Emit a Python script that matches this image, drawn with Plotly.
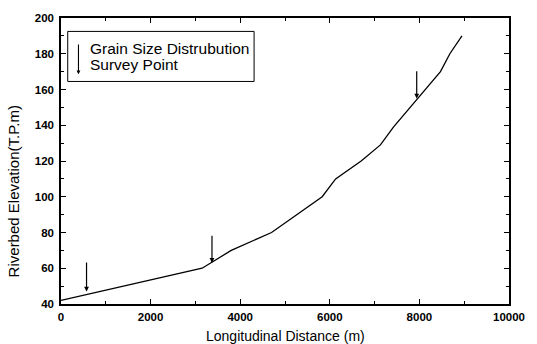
import plotly.graph_objects as go

# Longitudinal riverbed profile
distance_m = [0, 3150, 3800, 4700, 5830, 6130, 6700, 7130, 7420, 7920, 8470, 8680, 8950]
elevation_m = [42, 60, 70, 80, 100, 110, 120, 129, 139, 154, 170, 180, 190]

# Grain size distribution survey points (arrow x, arrow top y, arrow tip y)
survey_x = [570, 3370, 7940]
survey_top = [64, 79, 171]
survey_tip = [47, 63, 155]

x_ticks = [0, 2000, 4000, 6000, 8000, 10000]
y_ticks = [40, 60, 80, 100, 120, 140, 160, 180, 200]

legend_lines = ["Grain Size Distrubution", "Survey Point"]
x_title = "Longitudinal Distance (m)"
y_title = "Riverbed Elevation(T.P.m)"

fig = go.Figure()
fig.add_trace(go.Scatter(x=distance_m, y=elevation_m, mode="lines",
                         line=dict(color="black", width=1.3), showlegend=False,
                         hoverinfo="skip"))

for sx, st, sp in zip(survey_x, survey_top, survey_tip):
    fig.add_annotation(x=sx, y=sp, ax=sx, ay=st, xref="x", yref="y", axref="x", ayref="y",
                       showarrow=True, arrowhead=2, arrowsize=0.8, arrowwidth=1.2,
                       arrowcolor="black", text="")

# legend box
fig.add_shape(type="rect", xref="x", yref="y", x0=150, x1=4310, y0=164.5, y1=192.5,
              line=dict(color="black", width=1), fillcolor="white")
fig.add_annotation(x=390, y=168.5, ax=390, ay=186, xref="x", yref="y", axref="x", ayref="y",
                   showarrow=True, arrowhead=2, arrowsize=0.7, arrowwidth=1.1,
                   arrowcolor="black", text="")
fig.add_annotation(x=600, y=182.9, xref="x", yref="y", text=legend_lines[0], showarrow=False,
                   xanchor="left", yanchor="middle",
                   font=dict(size=15.5, color="#000000", family="Liberation Sans"))
fig.add_annotation(x=600, y=174.0, xref="x", yref="y", text=legend_lines[1], showarrow=False,
                   xanchor="left", yanchor="middle",
                   font=dict(size=15.5, color="#000000", family="Liberation Sans"))

# axis titles
fig.add_annotation(x=0.5, y=-0.112, xref="paper", yref="paper", text=x_title, showarrow=False,
                   xanchor="center", yanchor="middle",
                   font=dict(size=14, color="#000000", family="Liberation Sans"))
fig.add_annotation(x=-0.107, y=0.394, xref="paper", yref="paper", text=y_title, showarrow=False,
                   xanchor="center", yanchor="middle", textangle=-90,
                   font=dict(size=15, color="#000000", family="Liberation Sans"))

axis_common = dict(showgrid=False, zeroline=False, showline=True, linecolor="black",
                   linewidth=1.5, mirror="ticks", ticks="inside", ticklen=5,
                   tickcolor="black", tickwidth=1,
                   tickfont=dict(size=11.5, color="#000000", family="Liberation Sans",
                                 weight="bold"))

fig.update_xaxes(range=[0, 10000], tickvals=x_ticks, ticktext=[str(v) for v in x_ticks],
                 minor=dict(ticks="inside", ticklen=3, dtick=1000, tickcolor="black"),
                 ticklabelstandoff=1, **axis_common)
fig.update_yaxes(range=[40, 200], tickvals=y_ticks, ticktext=[str(v) for v in y_ticks],
                 minor=dict(ticks="inside", ticklen=3, dtick=10, tickcolor="black"),
                 ticklabelstandoff=3, **axis_common)

fig.update_layout(width=537, height=344, margin=dict(l=61, r=18, t=15, b=40),
                  plot_bgcolor="white", paper_bgcolor="white",
                  font=dict(family="Liberation Sans", color="#000000"))

fig.write_html("out.html")
